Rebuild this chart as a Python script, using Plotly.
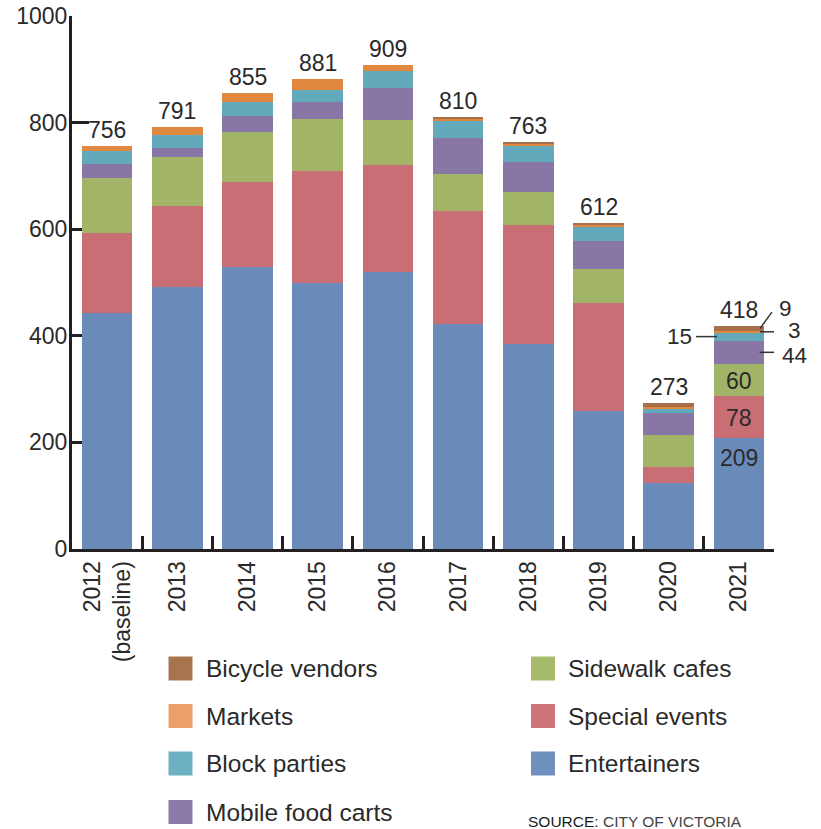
import plotly.graph_objects as go

years = ["2012<br>(baseline)", "2013", "2014", "2015", "2016", "2017", "2018", "2019", "2020", "2021"]

entertainers   = [442, 491, 529, 499, 520, 423, 385, 258, 123, 209]
special_events = [150, 153, 159, 211, 200, 211, 222, 203, 30, 78]
sidewalk_cafes = [105, 92, 95, 96, 84, 69, 62, 64, 61, 60]
mobile_food    = [26, 17, 29, 32, 60, 68, 58, 52, 41, 44]
block_parties  = [23, 24, 27, 24, 32, 32, 29, 28, 9, 15]
markets        = [10, 14, 16, 19, 13, 4, 4, 3, 3, 3]
bicycle        = [0, 0, 0, 0, 0, 3, 3, 4, 6, 9]

series_names = ["Entertainers", "Special events", "Sidewalk cafes", "Mobile food carts",
                "Block parties", "Markets", "Bicycle vendors"]
series_vals = [entertainers, special_events, sidewalk_cafes, mobile_food,
               block_parties, markets, bicycle]
series_colors = ["#6a8bba", "#c96e75", "#a1b468", "#8877a5", "#63a9bc", "#e08840", "#a8704a"]
legend_colors = {"Entertainers": "#6f90bd", "Special events": "#cd747b", "Sidewalk cafes": "#a6ba6c",
                 "Mobile food carts": "#8a7aaa", "Block parties": "#6cb0c1", "Markets": "#eaa068",
                 "Bicycle vendors": "#a8744e"}

totals = [sum(v) for v in zip(*series_vals)]

FONT = "Liberation Sans, Arial, Helvetica, sans-serif"
TXT = "#2a2a2a"
W, H = 821, 829
ML, MR, MT, MB = 72, 47, 16, 280
PW, PH = W - ML - MR, H - MT - MB

def px_x(px):
    return (px - ML) / PW

def px_y(py):
    return (H - MB - py) / PH

fig = go.Figure()
for name, vals, col in zip(series_names, series_vals, series_colors):
    fig.add_trace(go.Bar(x=years, y=vals, name=name, marker_color=col,
                         marker_line_width=0, showlegend=False))

# totals above bars (x given as category index)
for i, t in enumerate(totals):
    fig.add_annotation(x=i, y=t, text=str(t), showarrow=False, yanchor="bottom",
                       yshift=1, font=dict(size=23, color=TXT, family=FONT))

# 2021 inside labels
last = len(years) - 1
v21 = [v[last] for v in series_vals]
cum = [0]
for v in v21:
    cum.append(cum[-1] + v)
fig.add_annotation(x=last, y=cum[1], text=str(v21[0]), showarrow=False, yanchor="top", yshift=-5,
                   font=dict(size=23, color=TXT, family=FONT))
for i in (1, 2):
    fig.add_annotation(x=last, y=(cum[i] + cum[i + 1]) / 2, text=str(v21[i]), showarrow=False,
                       yshift=-1, font=dict(size=23, color=TXT, family=FONT))

# callouts for small 2021 segments
line_style = dict(color="#333333", width=1.5)
mid_mfc = (cum[3] + cum[4]) / 2
mid_bp = (cum[4] + cum[5]) / 2
mid_mk = (cum[5] + cum[6]) / 2
mid_bk = (cum[6] + cum[7]) / 2
anchor_r = last + 0.29
CF = dict(size=22.5, color=TXT, family=FONT)
CH = 18  # compact box height for the tightly spaced callouts
# 15 (block parties) on left
fig.add_shape(type="line", xref="x", yref="y", x0=last - 0.61, x1=last - 0.31, y0=mid_bp, y1=mid_bp, line=line_style)
fig.add_annotation(x=last - 0.64, y=mid_bp, text=str(v21[4]), showarrow=False, xanchor="right", yshift=1,
                   height=CH, font=CF)
# 44 (mobile food carts)
fig.add_shape(type="line", xref="x", yref="y", x0=last + 0.295, x1=last + 0.59, y0=mid_mfc, y1=mid_mfc, line=line_style)
fig.add_annotation(x=anchor_r, y=mid_mfc, text=str(v21[3]), showarrow=False, xanchor="left", xshift=21, yshift=-3,
                   height=CH, font=CF)
# 3 (markets)
fig.add_shape(type="line", xref="x", yref="y", x0=last + 0.30, x1=last + 0.59, y0=mid_mk, y1=mid_mk, line=line_style)
fig.add_annotation(x=anchor_r, y=mid_mk, text=str(v21[5]), showarrow=False, xanchor="left", xshift=27, yshift=2,
                   height=CH, font=CF)
# 9 (bicycle vendors)
fig.add_shape(type="line", xref="x", yref="y", x0=last + 0.30, x1=last + 0.47, y0=mid_bk, y1=mid_bk + 31,
              line=line_style)
fig.add_annotation(x=anchor_r, y=mid_bk + 31, text=str(v21[6]), showarrow=False, xanchor="left", xshift=18,
                   yshift=4, height=CH, font=CF)

# custom legend (two columns)
left_col = ["Bicycle vendors", "Markets", "Block parties", "Mobile food carts"]
right_col = ["Sidewalk cafes", "Special events", "Entertainers"]
row_y = [668.5, 716, 763.5, 812]
for col_names, sq_x, tx_x in ((left_col, 168.5, 204), (right_col, 531, 565.5)):
    for name, cy in zip(col_names, row_y):
        fig.add_shape(type="rect", xref="paper", yref="paper",
                      x0=px_x(sq_x), x1=px_x(sq_x + 24), y0=px_y(cy - 12), y1=px_y(cy + 12),
                      fillcolor=legend_colors[name], line_width=0)
        fig.add_annotation(xref="paper", yref="paper", x=px_x(tx_x), y=px_y(cy), text=name,
                           showarrow=False, xanchor="left", yanchor="middle",
                           font=dict(size=24.5, color=TXT, family=FONT))

fig.add_annotation(xref="paper", yref="paper", x=px_x(525.5), y=px_y(821),
                   text="SOURCE: <span style='color:#444444'>CITY OF VICTORIA</span>",
                   showarrow=False, xanchor="left", yanchor="middle",
                   font=dict(size=15.5, color="#1a1a1a", family=FONT))

fig.update_layout(
    barmode="stack",
    bargap=0.278,
    width=W, height=H,
    margin=dict(l=ML, r=MR, t=MT, b=MB, pad=0, autoexpand=False),
    paper_bgcolor="white", plot_bgcolor="white",
    font=dict(family=FONT, size=23, color=TXT),
    showlegend=False,
)
fig.update_xaxes(type="category", range=[-0.5, len(years) - 0.5], showline=True, linewidth=3,
                 linecolor="#231f20", ticks="inside", tickson="boundaries", ticklen=13, tickwidth=2.5,
                 tickcolor="#231f20", tickangle=-90, showgrid=False, zeroline=False, automargin=False,
                 tickfont=dict(size=23, color=TXT, family=FONT), layer="below traces")
fig.update_yaxes(range=[0, 1000], dtick=200, showline=True, linewidth=3, linecolor="#231f20",
                 ticks="inside", ticklen=17, tickwidth=2.5, tickcolor="#231f20", showgrid=False,
                 zeroline=False, automargin=False, ticklabelstandoff=-3,
                 tickfont=dict(size=23, color=TXT, family=FONT), layer="below traces")

fig.write_html("out.html")
